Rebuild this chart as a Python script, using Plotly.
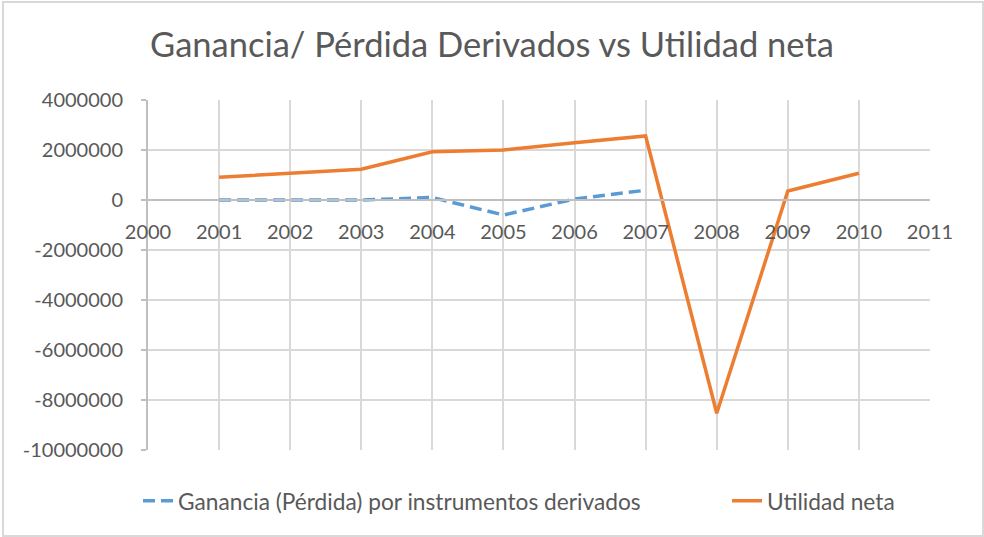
import plotly.graph_objects as go

years = [2001, 2002, 2003, 2004, 2005, 2006, 2007, 2008, 2009, 2010]
derivados = [0, 0, 0, 100000, -600000, 40000, 390000, None, None, None]
utilidad = [910000, 1070000, 1230000, 1930000, 2000000, 2290000, 2560000, -8530000, 360000, 1070000]
x_ticks = list(range(2000, 2012))
y_ticks = list(range(-10000000, 4000001, 2000000))

FONT = "Lato"
TXT = "#595959"
GRID = "#D9D9D9"
AXIS = "#BFBFBF"

fig = go.Figure()
fig.add_trace(go.Scatter(
    x=years, y=derivados, mode="lines",
    name="Ganancia (Pérdida) por instrumentos derivados",
    line=dict(color="#5B9BD5", width=3.5, dash="12px,6px"),
    connectgaps=False, legend="legend",
))
fig.add_trace(go.Scatter(
    x=years, y=utilidad, mode="lines", name="Utilidad neta",
    line=dict(color="#ED7D31", width=3.5), legend="legend2",
))

leg_common = dict(orientation="h", xanchor="left", yanchor="middle",
                  y=(450 - 501) / 350,
                  font=dict(size=22.7, color=TXT, family=FONT),
                  bgcolor="rgba(0,0,0,0)")

fig.update_layout(
    width=984, height=537,
    margin=dict(l=148, r=54, t=100, b=87, autoexpand=False),
    paper_bgcolor="white", plot_bgcolor="white",
    font=dict(family=FONT, color=TXT, size=20),
    title=dict(text="Ganancia/ Pérdida Derivados vs Utilidad neta",
               x=0.5, xanchor="center", xref="container",
               y=1 - 45 / 537, yanchor="middle", yref="container",
               font=dict(size=34.5, color=TXT, family=FONT)),
    showlegend=True,
    legend=dict(x=(138 - 148) / 782, **leg_common),
    legend2=dict(x=(727 - 148) / 782, **leg_common),
    xaxis=dict(range=[2000, 2011], tickvals=x_ticks, ticktext=[str(v) for v in x_ticks],
               showgrid=True, gridcolor=GRID, gridwidth=2,
               anchor="free", position=10 / 14,
               showline=True, linecolor=AXIS, linewidth=2,
               ticks="", ticklabelstandoff=14, zeroline=False,
               tickfont=dict(size=20, color=TXT, family=FONT)),
    yaxis=dict(range=[-10000000, 4000000], tickvals=y_ticks,
               ticktext=[str(v) for v in y_ticks],
               showgrid=True, gridcolor=GRID, gridwidth=2,
               showline=True, linecolor=AXIS, linewidth=2,
               ticks="outside", ticklen=5, tickcolor=AXIS, tickwidth=2,
               ticklabelstandoff=14, zeroline=False,
               tickfont=dict(size=20, color=TXT, family=FONT)),
    shapes=[dict(type="rect", xref="paper", yref="paper",
                 x0=(3 - 148) / 782, x1=(983 - 148) / 782,
                 y0=(450 - 536) / 350, y1=(450 - 2) / 350,
                 line=dict(color="#D9D9D9", width=2), fillcolor="rgba(0,0,0,0)",
                 layer="below")],
)

fig.write_html("out.html",
               config={"displayModeBar": False},
               post_script="document.body.style.margin='0';document.body.style.overflow='hidden';")
